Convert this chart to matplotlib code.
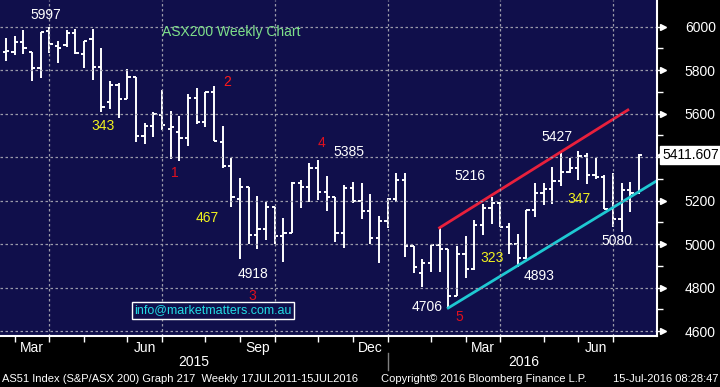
import numpy as np
import pandas as pd
import matplotlib
matplotlib.use("Agg")
import matplotlib.pyplot as plt
import matplotlib.dates as mdates

plt.rcParams['font.family'] = ['Liberation Sans', 'DejaVu Sans']

# ASX200 weekly bars (week ending Friday)
weeks = pd.date_range(end="2016-07-15", periods=74, freq="W-FRI")

opens = [5885, 5882, 5928, 5882, 5811, 5982, 5911, 5916, 5972, 5874,
         5942, 5813, 5655, 5732, 5666, 5767, 5497, 5543, 5594, 5528,
         5514, 5489, 5671, 5563, 5698, 5471, 5361, 5207, 5261, 5042,
         5068, 5169, 5037, 5050, 5282, 5264, 5349, 5238, 5215, 5050,
         5257, 5200, 5152, 5027, 5106, 5206, 5295, 4991, 4866, 4914,
         4996, 4976, 4761, 4953, 4884, 5088, 5165, 5188, 5080, 4999,
         4935, 5157, 5236, 5252, 5290, 5330, 5349, 5407, 5318, 5310,
         5160, 5115, 5249, 5234]
highs = [5947, 5959, 5985, 5882, 5977, 5997, 5934, 5985, 5990, 5936,
         5988, 5901, 5750, 5740, 5805, 5767, 5556, 5609, 5709, 5612,
         5589, 5690, 5717, 5698, 5727, 5543, 5395, 5305, 5261, 5221,
         5195, 5169, 5119, 5284, 5295, 5374, 5385, 5313, 5215, 5272,
         5287, 5280, 5230, 5129, 5211, 5326, 5328, 4991, 4930, 4996,
         5075, 4976, 4991, 5037, 5111, 5184, 5216, 5195, 5098, 5045,
         5157, 5282, 5282, 5356, 5418, 5397, 5427, 5418, 5395, 5318,
         5328, 5282, 5287, 5414]
lows = [5844, 5870, 5873, 5752, 5765, 5878, 5832, 5908, 5874, 5811,
        5755, 5609, 5620, 5579, 5666, 5471, 5459, 5494, 5525, 5391,
        5384, 5453, 5551, 5537, 5474, 5351, 5172, 4930, 4999, 4976,
        5019, 5000, 4918, 5050, 5167, 5195, 5203, 5154, 5011, 4981,
        5188, 5115, 5000, 4912, 5075, 5195, 4942, 4866, 4804, 4873,
        4873, 4706, 4761, 4843, 4881, 5042, 5091, 5080, 4953, 4893,
        4930, 5123, 5180, 5183, 5267, 5326, 5295, 5276, 5298, 5160,
        5080, 5057, 5149, 5229]
closes = [5890, 5928, 5901, 5811, 5974, 5919, 5901, 5972, 5878, 5936,
          5813, 5632, 5732, 5666, 5767, 5497, 5543, 5597, 5548, 5537,
          5489, 5671, 5563, 5698, 5474, 5359, 5215, 5261, 5042, 5068,
          5169, 5037, 5050, 5282, 5264, 5349, 5238, 5215, 5050, 5257,
          5200, 5152, 5027, 5106, 5206, 5295, 4991, 4893, 4914, 4996,
          4976, 4761, 4953, 4884, 5088, 5165, 5188, 5080, 4999, 4935,
          5157, 5236, 5252, 5290, 5330, 5349, 5407, 5318, 5310, 5160,
          5115, 5249, 5234, 5411.607]

# trend channel
red_dates = ["2016-02-05", "2016-07-06"]
red_vals = [5075, 5617]
cyan_dates = ["2016-02-12", "2016-07-29"]
cyan_vals = [4706, 5290]

yticks = [4600, 4800, 5000, 5200, 5400, 5600, 5800, 6000]
ylabels = ["4600", "4800", "5000", "5200", "", "5600", "5800", "6000"]

# annotations: (text, x px, y px, colour)
notes = [("5997", 46, 15, "white"), ("343", 103, 126, "#f2f21e"),
         ("1", 175, 173, "#e0101e"), ("2", 227, 82, "#ff1a1a"),
         ("467", 207, 218, "#f2f21e"), ("4918", 253, 274, "white"),
         ("3", 252, 296, "#e0101e"), ("4", 321, 143, "#e0101e"),
         ("5385", 349, 152, "white"), ("5216", 470, 176, "white"),
         ("4706", 427, 307, "white"), ("5", 459, 317, "#e0101e"),
         ("323", 492, 258, "#f2f21e"), ("4893", 539, 276, "white"),
         ("5427", 557, 137, "white"), ("347", 579, 199, "#f2f21e"),
         ("5080", 617, 241, "white")]

W, H = 720, 387
navy = "#100f4b"

fig = plt.figure(figsize=(W / 100, H / 100), dpi=100, facecolor="black")
ax = fig.add_axes([0, 1 - 336 / H, 657 / W, 336 / H])
ax.set_facecolor(navy)

xs = mdates.date2num(weeks.to_pydatetime())
tk = 2.6
ax.vlines(xs, lows, highs, color="white", lw=1.4)
ax.hlines(opens, xs - tk, xs, color="white", lw=1.4)
ax.hlines(closes, xs, xs + tk, color="white", lw=1.4)

ax.plot(mdates.datestr2num(red_dates), red_vals, color="#e8203c", lw=2)
ax.plot(mdates.datestr2num(cyan_dates), cyan_vals, color="#1ec8d2", lw=2)

ax.set_xlim(xs[0] - 4.8, xs[-1] + 14.5)
ax.set_ylim(4577, 6123)

# month ticks at last weekly bar of each complete month
s = pd.Series(xs, index=weeks)
last_bar = s.groupby([weeks.year, weeks.month]).last()
month_end = last_bar.values[:-1]
ax.set_xticks(month_end)
ax.set_xticklabels([])
ax.tick_params(axis="x", direction="out", length=4, width=1, color="white")
for x, (yr, mo) in zip(month_end, last_bar.index[:-1]):
    if mo in (3, 6, 9, 12):
        ax.axvline(x, color="#9a9aaa", lw=0.9, ls=(0, (2, 2)))

ax.yaxis.tick_right()
ax.set_yticks(yticks)
ax.set_yticklabels(ylabels, color="white", fontsize=10)
ax.set_yticks(np.arange(4700, 6100, 200), minor=True)
ax.tick_params(axis="y", which="major", length=4, width=1, color="white", pad=16)
ax.tick_params(axis="y", which="minor", length=4, width=1, color="white")
for v in yticks:
    ax.axhline(v, color="#9a9aaa", lw=0.9, ls=(0, (2, 2)))
    if v != 5400:
        ax.plot(1.0 + 6 / 657, v, marker=">", ms=5, color="white", clip_on=False,
                transform=ax.get_yaxis_transform())

for side in ("top", "left"):
    ax.spines[side].set_visible(False)
for side in ("right", "bottom"):
    ax.spines[side].set_color("white")
    ax.spines[side].set_linewidth(1.5)

def fx(x):
    return x / W

def fy(y):
    return 1 - y / H

# month labels between month ticks
mids = (month_end[:-1] + month_end[1:]) / 2
for m, (yr, mo) in zip(mids, last_bar.index[1:-1]):
    if mo in (3, 6, 9, 12):
        ax.text(m, -0.035, pd.Timestamp(year=yr, month=mo, day=1).strftime("%b"),
                transform=ax.get_xaxis_transform(), ha="center", va="center",
                color="white", fontsize=10, clip_on=False)

fig.text(fx(194), fy(362), "2015", color="white", fontsize=10, ha="center", va="center")
fig.text(fx(524), fy(362), "2016", color="white", fontsize=10, ha="center", va="center")
fig.add_artist(plt.Line2D([fx(388), fx(388)], [fy(353), fy(370)], color="#808080", lw=1))

for txt, x, y, c in notes:
    fig.text(fx(x), fy(y), txt, color=c, fontsize=10, ha="center", va="center")

fig.text(fx(162), fy(32), "ASX200 Weekly Chart", color="#7ee08a", fontsize=10,
         ha="left", va="center")
fig.text(fx(213), fy(310), "info@marketmatters.com.au", color="#22dce4", fontsize=9,
         ha="center", va="center",
         bbox=dict(boxstyle="square,pad=0.2", fc=navy, ec="white", lw=1))

# last price marker
ax.plot(1.0 + 4 / 657, closes[-1], marker="<", ms=6, color="white", clip_on=False,
        transform=ax.get_yaxis_transform())
fig.text(fx(662), fy(155), "5411.607", color="black", fontsize=10, ha="left", va="center",
         bbox=dict(boxstyle="square,pad=0.15", fc="white", ec="white"))

fig.text(fx(2), fy(379), "AS51 Index (S&P/ASX 200) Graph 217  Weekly 17JUL2011-15JUL2016",
         color="white", fontsize=8, ha="left", va="center")
fig.text(fx(381), fy(379), "Copyright\u00a9 2016 Bloomberg Finance L.P.",
         color="white", fontsize=8, ha="left", va="center")
fig.text(fx(718), fy(379), "15-Jul-2016 08:28:47",
         color="white", fontsize=8, ha="right", va="center")

fig.savefig("out.png", dpi=100, facecolor="black")
